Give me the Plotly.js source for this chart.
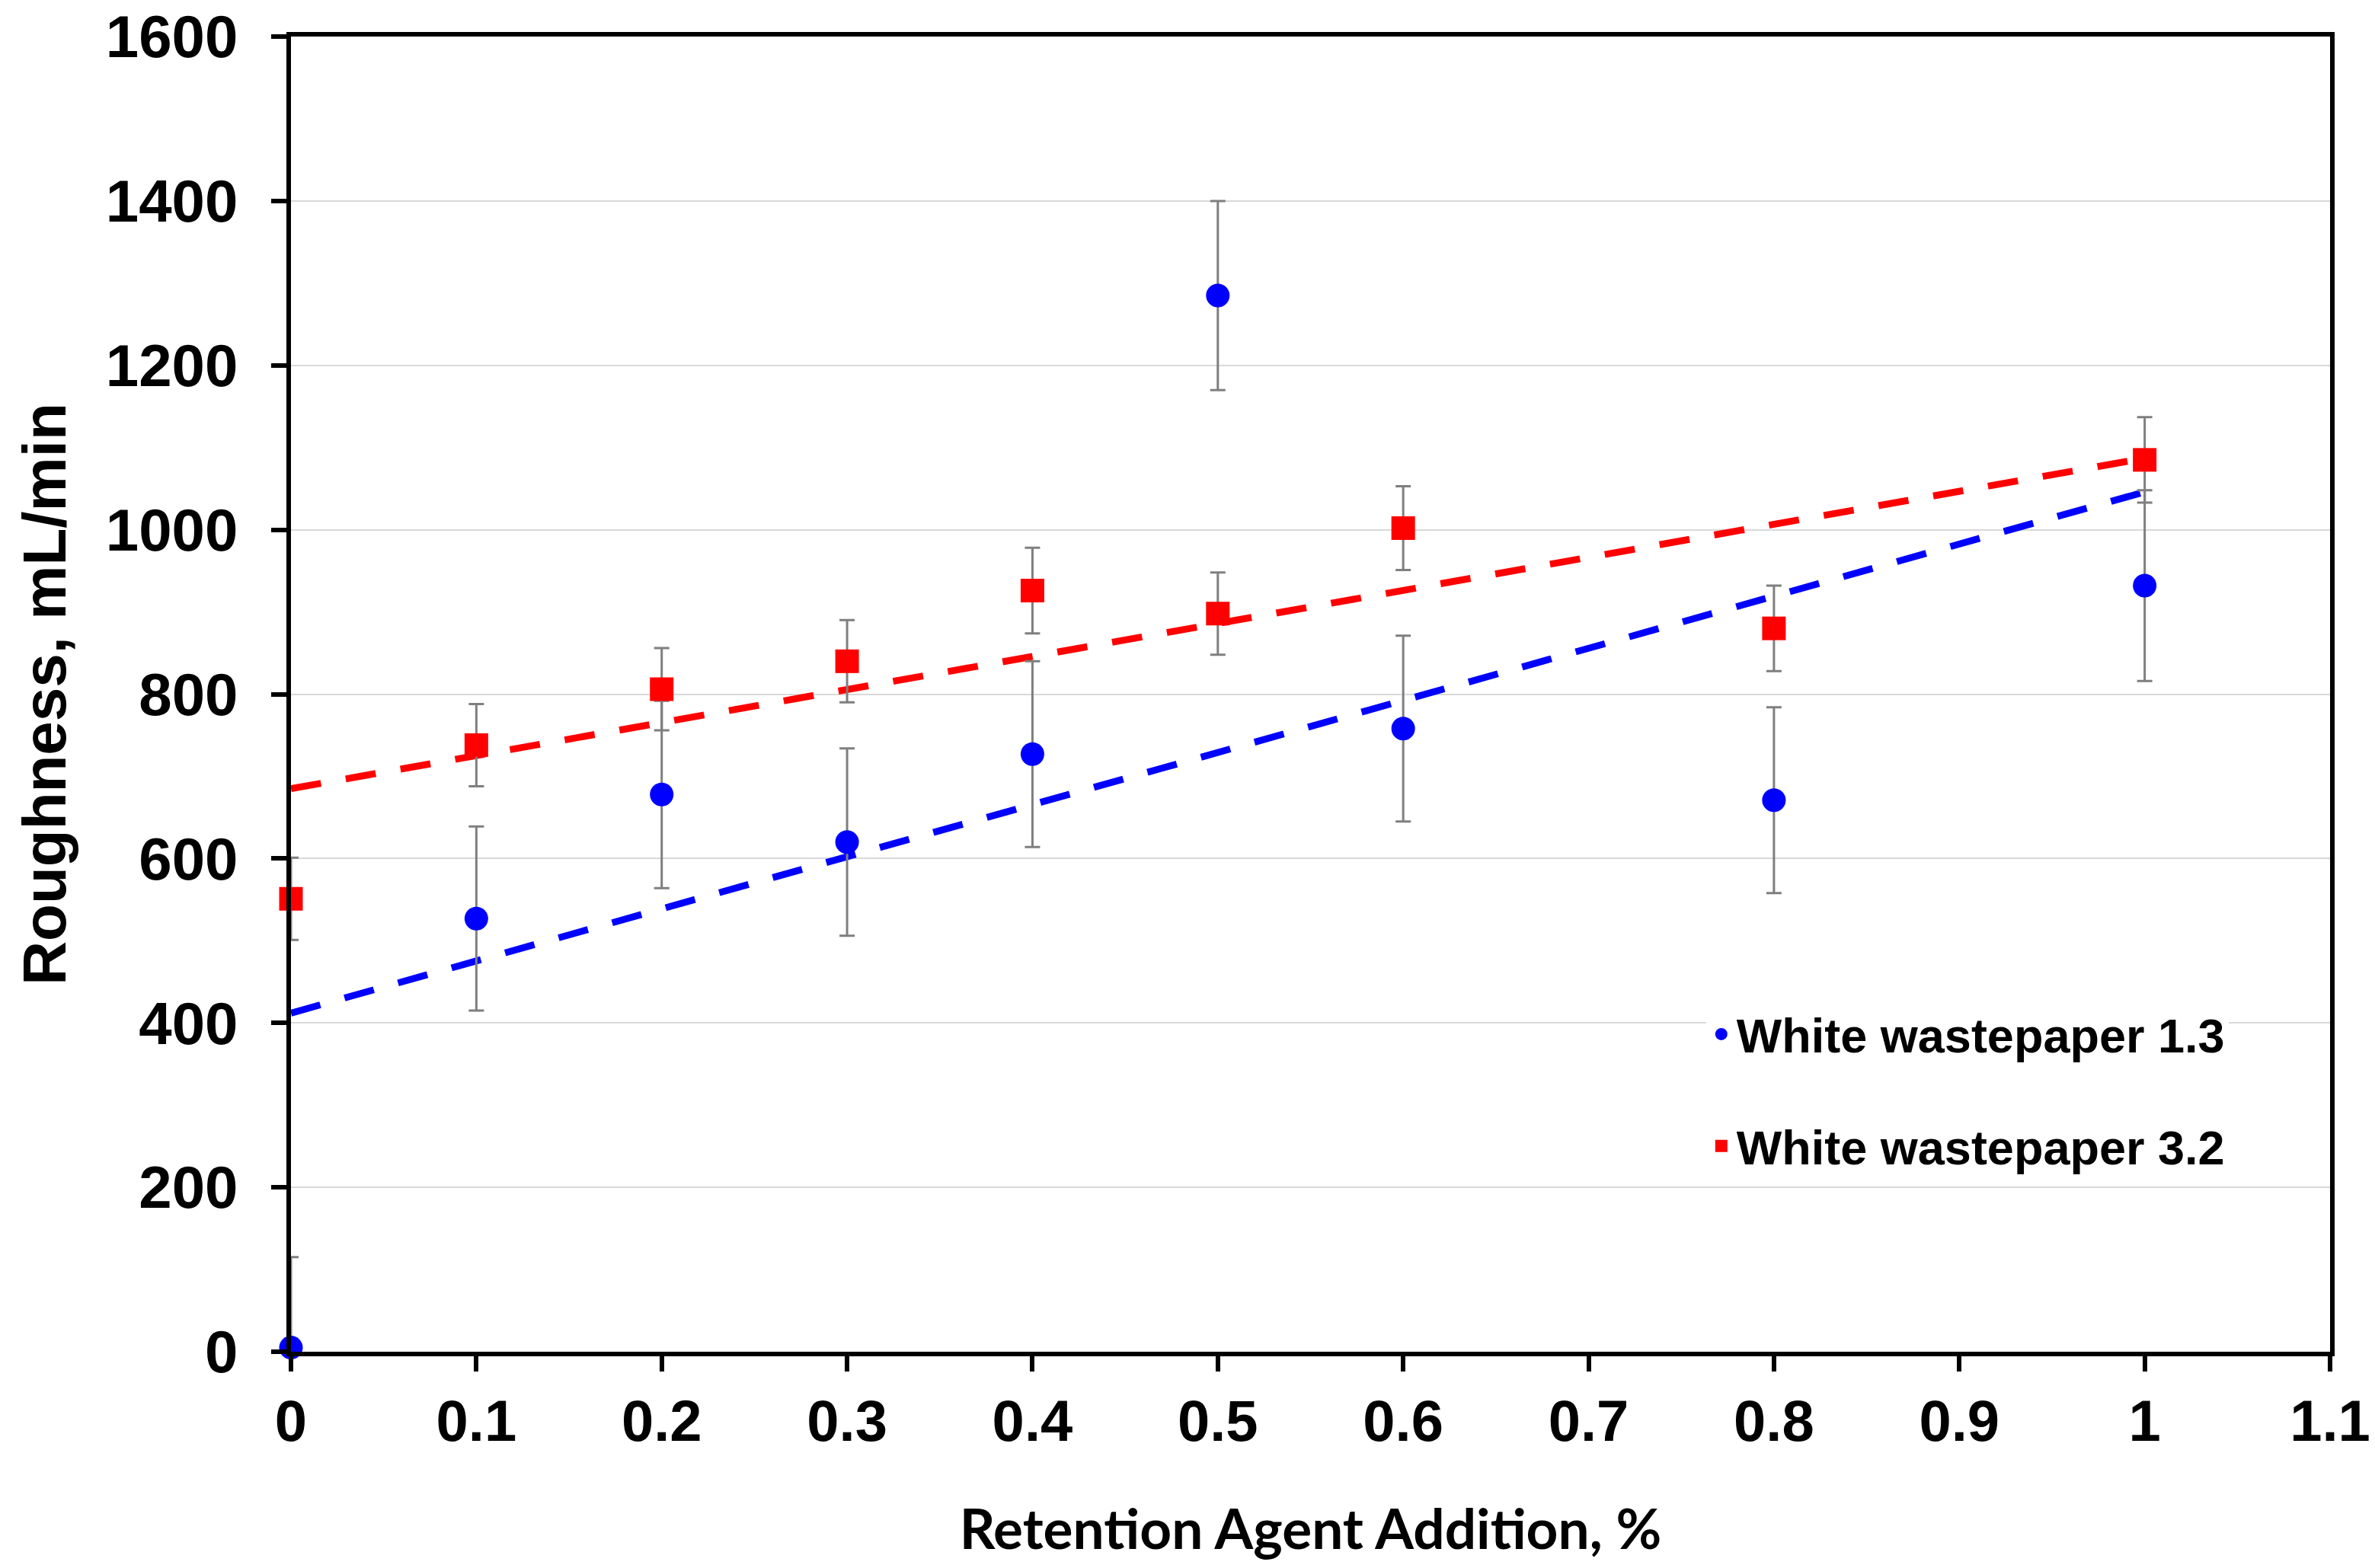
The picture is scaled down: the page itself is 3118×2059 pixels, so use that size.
<!DOCTYPE html>
<html>
<head>
<meta charset="utf-8">
<script src="https://cdn.plot.ly/plotly-3.0.1.min.js"></script>
<style>html,body{margin:0;padding:0;background:#fff;}#chart{width:3118px;height:2059px;}</style>
</head>
<body>
<div id="chart"></div>
<script>
// Data
const xValues = [0, 0.1, 0.2, 0.3, 0.4, 0.5, 0.6, 0.8, 1.0];
const blueName = "White wastepaper 1.3";
const blueY = [5, 527, 678, 620, 727, 1285, 758, 671, 932];
const blueErr = [110, 112, 114, 114, 113, 115, 113, 113, 116];
const redName = "White wastepaper 3.2";
const redY = [551, 738, 806, 840, 926, 898, 1002, 880, 1085];
const redErr = [50, 50, 50, 50, 52, 50, 51, 52, 52];
// Linear trendline endpoints
const trendX = [0, 1];
const blueTrendY = [412, 1046];
const redTrendY = [685, 1087];
const yTicks = [0, 200, 400, 600, 800, 1000, 1200, 1400, 1600];
const xTitle = "Retention Agent Addition, %";
const yTitle = "Roughness, mL/min";

const BLUE = "#0000ff", RED = "#ff0000", ERRC = "#7f7f7f";
const AX = "Liberation Sans, Arial, sans-serif";

const traces = [
  {x: trendX, y: blueTrendY, mode: "lines", showlegend: false, hoverinfo: "skip",
   line: {color: BLUE, width: 9, dash: "40px,33px"}},
  {x: trendX, y: redTrendY, mode: "lines", showlegend: false, hoverinfo: "skip",
   line: {color: RED, width: 9, dash: "40px,33px"}},
  {x: xValues, y: blueY, name: blueName, mode: "markers", type: "scatter", cliponaxis: false,
   legendgroup: "a",
   marker: {symbol: "circle", size: 31, color: BLUE},
   error_y: {type: "data", array: blueErr, visible: true, color: ERRC, thickness: 3, width: 10}},
  {x: xValues, y: redY, name: redName, mode: "markers", type: "scatter", cliponaxis: false,
   legendgroup: "b",
   marker: {symbol: "square", size: 31, color: RED},
   error_y: {type: "data", array: redErr, visible: true, color: ERRC, thickness: 3, width: 10}}
];

const layout = {
  width: 3118, height: 2059,
  paper_bgcolor: "#ffffff", plot_bgcolor: "#ffffff",
  margin: {l: 382, r: 59, t: 48, b: 284, pad: 0},
  showlegend: true,
  legend: {
    x: 0.694, y: 0.269, xanchor: "left", yanchor: "top",
    bgcolor: "#ffffff", borderwidth: 0,
    traceorder: "grouped", tracegroupgap: 62,
    font: {family: AX, size: 63, color: "#000", weight: "bold"}
  },
  xaxis: {
    range: [0, 1.1], dtick: 0.1, tick0: 0, tickmode: "linear",
    showgrid: false, zeroline: false,
    showline: true, linecolor: "#000", linewidth: 6, mirror: true,
    ticks: "outside", ticklen: 20, tickwidth: 6, tickcolor: "#000",
    tickfont: {family: AX, size: 76, color: "#000", weight: "bold"},
    title: {text: xTitle, standoff: 78,
      font: {family: "Lato, Open Sans, sans-serif", size: 73, color: "#000", weight: "bold"}}
  },
  yaxis: {
    range: [0, 1600], tickvals: yTicks,
    showgrid: true, gridcolor: "#d9d9d9", gridwidth: 2, zeroline: false,
    showline: true, linecolor: "#000", linewidth: 6, mirror: true,
    ticks: "outside", ticklen: 20, tickwidth: 6, tickcolor: "#000",
    ticklabelstandoff: 28,
    tickfont: {family: AX, size: 78, color: "#000", weight: "bold"},
    title: {text: yTitle, standoff: 28,
      font: {family: AX, size: 80, color: "#000", weight: "bold"}}
  }
};

Plotly.newPlot("chart", traces, layout, {staticPlot: true, displayModeBar: false});
</script>
</body>
</html>
